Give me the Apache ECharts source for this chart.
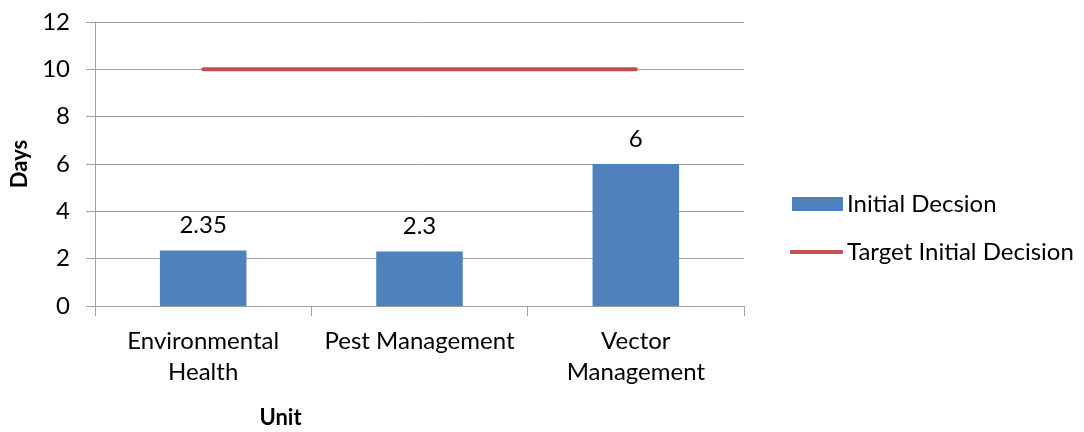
<!DOCTYPE html>
<html>
<head>
<meta charset="utf-8">
<script src="https://cdn.jsdelivr.net/npm/echarts@6/dist/echarts.min.js"></script>
<style>html,body{margin:0;padding:0;background:#fff}#c{width:1084px;height:432px}</style>
</head>
<body>
<div id="c"></div>
<script>
var categories = ['Environmental Health', 'Pest Management', 'Vector Management'];
var tickLabels = ['Environmental\nHealth', 'Pest Management', 'Vector\nManagement'];
var initialDecision = [2.35, 2.3, 6];
var targetInitialDecision = [10, 10, 10];
var yTicks = [0, 2, 4, 6, 8, 10, 12];

var FONT = 'Lato';
var FS = 24;
var chart = echarts.init(document.getElementById('c'));
chart.setOption({
  backgroundColor: '#ffffff',
  animation: false,
  textStyle: { fontFamily: FONT, color: '#000' },
  grid: { left: 95, right: 340, top: 22, bottom: 126, containLabel: false, outerBoundsMode: 'none' },
  legend: [
    {
      data: ['Initial Decsion'], orient: 'vertical', left: 787, top: 187,
      itemWidth: 51, itemHeight: 14, itemGap: 0, icon: 'rect',
      textStyle: { fontFamily: FONT, fontSize: FS, color: '#000', padding: [0, 0, 0, -1] }
    },
    {
      data: ['Target Initial Decision'], orient: 'vertical', left: 785, top: 235,
      itemWidth: 53, itemHeight: 4, itemGap: 0, icon: 'roundRect',
      textStyle: { fontFamily: FONT, fontSize: FS, color: '#000', padding: [0, 0, 0, -1] }
    }
  ],
  xAxis: {
    type: 'category',
    data: categories,
    name: 'Unit',
    nameLocation: 'middle',
    nameGap: 101,
    nameTextStyle: { fontFamily: FONT, fontSize: 22, fontWeight: 'bold', color: '#000', padding: [0, 278, 0, 0] },
    axisLine: { lineStyle: { color: '#a0a0a0', width: 1 } },
    axisTick: { show: true, length: 10, lineStyle: { color: '#a0a0a0' } },
    axisLabel: {
      interval: 0, hideOverlap: false,
      fontFamily: FONT, fontSize: FS, color: '#000', margin: 20, lineHeight: 31,
      formatter: function (v, i) { return tickLabels[i]; }
    }
  },
  yAxis: {
    type: 'value', min: 0, max: 12, interval: 2,
    name: 'Days',
    nameLocation: 'middle',
    nameGap: 61,
    nameRotate: 90,
    nameTextStyle: { fontFamily: FONT, fontSize: 22, fontWeight: 'bold', color: '#000' },
    axisLine: { show: true, lineStyle: { color: '#a0a0a0', width: 1 } },
    axisTick: { show: true, inside: false, length: 9, lineStyle: { color: '#a0a0a0' } },
    splitLine: { show: true, lineStyle: { color: '#a0a0a0', width: 1 } },
    axisLabel: {
      fontFamily: FONT, fontSize: FS, color: '#000', margin: 25,
      formatter: function (v) { return yTicks.indexOf(v) >= 0 ? String(v) : ''; }
    }
  },
  series: [
    {
      name: 'Initial Decsion', type: 'bar', data: initialDecision, barWidth: '40%',
      itemStyle: { color: '#4f81bd' },
      label: { show: true, position: 'top', distance: 13, fontFamily: FONT, fontSize: FS, color: '#000' }
    },
    {
      name: 'Target Initial Decision', type: 'line', data: targetInitialDecision,
      showSymbol: false, symbol: 'none',
      itemStyle: { color: '#c0504d' },
      lineStyle: { color: '#c0504d', width: 4, cap: 'round' }
    }
  ]
});
</script>
</body>
</html>
